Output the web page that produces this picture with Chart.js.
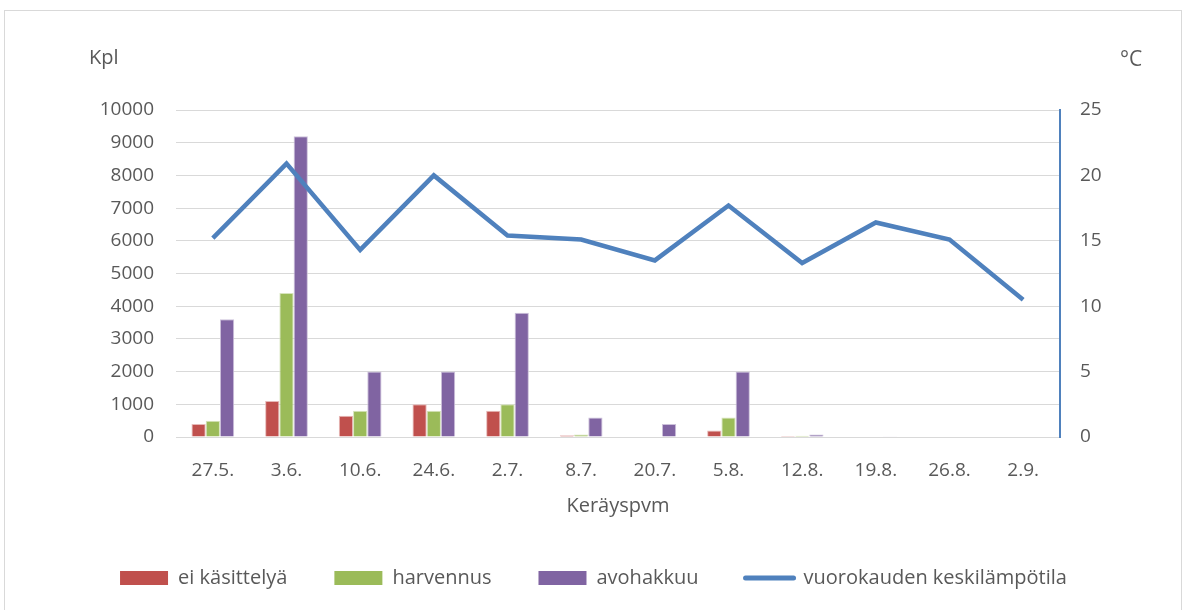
<!DOCTYPE html>
<html>
<head>
<meta charset="utf-8">
<script src="https://cdn.jsdelivr.net/npm/chart.js@4.4.1/dist/chart.umd.min.js"></script>
<style>
  html, body { margin: 0; padding: 0; background: #fff; }
  #wrap { position: absolute; left: 0; top: 0; width: 1187px; height: 610px; }
</style>
</head>
<body>
<div id="wrap"><canvas id="myChart" width="1187" height="610"></canvas></div>
<script>
var dates = ["27.5.", "3.6.", "10.6.", "24.6.", "2.7.", "8.7.", "20.7.", "5.8.", "12.8.", "19.8.", "26.8.", "2.9."];
var eiKasittelya = [400, 1100, 650, 1000, 800, 50, 0, 200, 30, 0, 0, 0];
var harvennus = [500, 4400, 800, 800, 1000, 80, 0, 600, 40, 0, 0, 0];
var avohakkuu = [3600, 9200, 2000, 2000, 3800, 600, 400, 2000, 80, 20, 0, 0];
var lampotila = [15.2, 20.9, 14.3, 20.0, 15.4, 15.1, 13.5, 17.7, 13.3, 16.4, 15.1, 10.5];

var fontFam = "'Open Sans', 'Noto Sans', sans-serif";
var textCol = '#595959';

// outer frame + "Kpl" / "°C" labels
var extras = {
  id: 'extras',
  beforeDraw: function(chart) {
    var c = chart.ctx;
    c.save();
    c.fillStyle = '#fff';
    c.fillRect(0, 0, chart.width, chart.height);
    c.strokeStyle = '#d9d9d9';
    c.lineWidth = 1;
    c.strokeRect(4.5, 10.5, 1177, 620);
    c.restore();
  },
  afterDraw: function(chart) {
    var c = chart.ctx;
    c.save();
    c.fillStyle = textCol;
    c.font = '20px ' + fontFam;
    c.textBaseline = 'middle';
    c.textAlign = 'left';
    c.fillText('Kpl', 89, 58);
    c.font = '21px ' + fontFam;
    c.fillText('°C', 1120, 60);
    c.restore();
  }
};

var ctx = document.getElementById('myChart').getContext('2d');

var chart = new Chart(ctx, {
  type: 'bar',
  data: {
    labels: dates,
    datasets: [{
        label: 'ei käsittelyä',
        data: eiKasittelya,
        backgroundColor: '#c0504d',
        borderColor: '#e6b9b8',
        borderWidth: 1,
        yAxisID: 'y',
        order: 2
      }, {
        label: 'harvennus',
        data: harvennus,
        backgroundColor: '#9bbb59',
        borderColor: '#d7e4bd',
        borderWidth: 1,
        yAxisID: 'y',
        order: 2
      }, {
        label: 'avohakkuu',
        data: avohakkuu,
        backgroundColor: '#8064a2',
        borderColor: '#ccc1da',
        borderWidth: 1,
        yAxisID: 'y',
        order: 2
      }, {
        type: 'line',
        label: 'vuorokauden keskilämpötila',
        data: lampotila,
        borderColor: '#4f81bd',
        backgroundColor: '#4f81bd',
        borderWidth: 4.5,
        pointRadius: 0,
        tension: 0,
        yAxisID: 'y1',
        order: 1
      }
    ]
  },
  options: {
    responsive: false,
    animation: false,
    layout: {
      padding: { top: 110, bottom: 0, left: 0, right: 0 }
    },
    datasets: {
      bar: { barPercentage: 1, categoryPercentage: 0.58 }
    },
    plugins: {
      tooltip: { enabled: false },
      legend: {
        position: 'bottom',
        labels: {
          color: textCol,
          font: { size: 20, family: fontFam },
          usePointStyle: true,
          pointStyleWidth: 48,
          boxHeight: 14,
          boxWidth: 48,
          padding: 47,
          sort: function(a, b) { return a.datasetIndex - b.datasetIndex; },
          generateLabels: function(chart) {
            var items = Chart.defaults.plugins.legend.labels.generateLabels(chart);
            items.forEach(function(it) {
              var ds = chart.data.datasets[it.datasetIndex];
              if (ds.type === 'line') {
                it.pointStyle = 'line';
                it.lineWidth = 5;
                it.lineCap = 'round';
                it.strokeStyle = '#4f81bd';
              } else {
                it.pointStyle = 'rect';
                it.lineWidth = 0;
                it.strokeStyle = ds.backgroundColor;
              }
            });
            return items;
          }
        }
      }
    },
    scales: {
      x: {
        grid: { display: false, drawTicks: false },
        border: { display: true, color: '#d9d9d9', width: 1 },
        ticks: {
          color: textCol,
          padding: 22,
          font: { size: 19, family: fontFam }
        },
        title: {
          display: true,
          text: 'Keräyspvm',
          color: textCol,
          font: { size: 20, family: fontFam },
          padding: { top: 0, bottom: 3 }
        },
        afterFit: function(scale) { scale.height = 84; }
      },
      y: {
        position: 'left',
        min: 0,
        max: 10000,
        ticks: {
          stepSize: 1000,
          color: textCol,
          padding: 22,
          font: { size: 19, family: fontFam },
          callback: function(v) { return String(v); }
        },
        grid: { color: '#d9d9d9', drawTicks: false, lineWidth: 1 },
        border: { display: false },
        afterFit: function(scale) { scale.width = 176; }
      },
      y1: {
        position: 'right',
        min: 0,
        max: 25,
        ticks: {
          stepSize: 5,
          color: textCol,
          padding: 20,
          font: { size: 19, family: fontFam }
        },
        grid: { drawOnChartArea: false, drawTicks: false },
        border: { display: true, color: '#4f81bd', width: 2 },
        afterFit: function(scale) { scale.width = 127; }
      }
    }
  },
  plugins: [extras]
});

// keep the legend box short so the plot area keeps its height
var legendFit = chart.legend.fit;
chart.legend.fit = function() {
  legendFit.call(this);
  this.height = 89;
};
chart.update();
</script>
</body>
</html>
